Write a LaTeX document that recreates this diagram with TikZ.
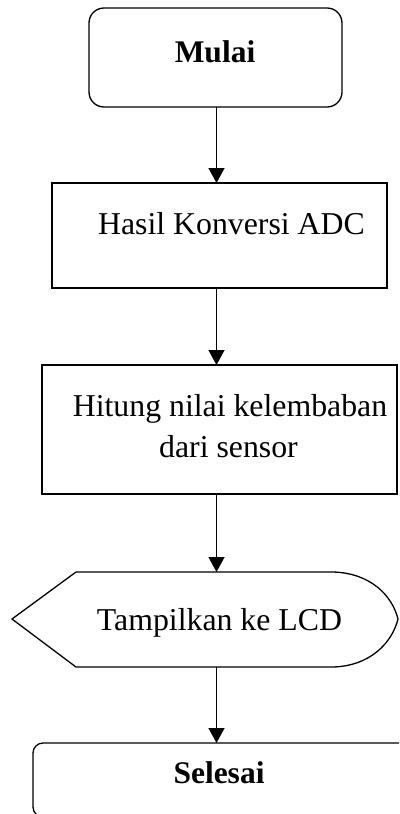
\documentclass[tikz,border=0pt]{standalone}
\usepackage{fontspec}
\setmainfont{Liberation Serif}
\usetikzlibrary{arrows.meta}
\begin{document}
\begin{tikzpicture}[x=1pt,y=-1pt,
  shapeline/.style={draw=black,line width=1.3pt},
  boxnode/.style={shapeline,rectangle,inner sep=0pt,outer sep=0pt},
  txt/.style={anchor=base,inner sep=0pt,font=\fontsize{31.8}{38}\selectfont},
  flow/.style={draw=black,line width=1.3pt,-{Triangle[width=16pt,length=15pt]}}]
\useasboundingbox (0,0) rectangle (399,814);
\begin{scope}
\clip (0,0) rectangle (399,814);
% Mulai
\node[boxnode,rounded corners=15pt,minimum width=253pt,minimum height=99pt] (mulai) at (215.5,57.5) {};
\node[txt,font=\fontsize{31.5}{38}\selectfont\bfseries] (tmulai) at (215,62) {Mulai};
% Hasil
\node[boxnode,minimum width=335pt,minimum height=105pt] (hasil) at (219.5,235.5) {};
\node[txt] (thasil) at (231.5,234) {Hasil Konversi ADC};
% Hitung
\node[boxnode,minimum width=355pt,minimum height=129pt] (hitung) at (219.5,429.5) {};
\node[txt] (thit1) at (230,416) {Hitung nilai kelembaban};
\node[txt] (thit2) at (228.5,457) {dari sensor};
% Display
\draw[shapeline,line join=miter] (12,619) -- (76,572) -- (333,572)
  .. controls (370,573) and (392,595) .. (398,619)
  .. controls (392,643) and (370,666) .. (333,667) -- (76,667) -- cycle;
\node[rectangle,inner sep=0pt,outer sep=0pt,minimum width=386pt,minimum height=95pt] (tampil) at (205,619.5) {};
\node[txt] (ttampil) at (219.5,630) {Tampilkan ke LCD};
% Selesai
\node[boxnode,rounded corners=10pt,minimum width=397pt,minimum height=74pt] (selesai) at (231.5,780) {};
\begin{scope}
\clip (0,700) rectangle (399,783.5);
\node[txt,font=\fontsize{31.5}{38}\selectfont\bfseries] (tselesai) at (219,783) {Selesai};
\end{scope}
\end{scope}
% connectors
\coordinate (ax) at (216.5,0);
\draw[flow] (mulai.south -| ax) -- (hasil.north -| ax);
\draw[flow] (hasil.south -| ax) -- (hitung.north -| ax);
\draw[flow] (hitung.south -| ax) -- (tampil.north -| ax);
\draw[flow] (tampil.south -| ax) -- (selesai.north -| ax);
\end{tikzpicture}
\end{document}
